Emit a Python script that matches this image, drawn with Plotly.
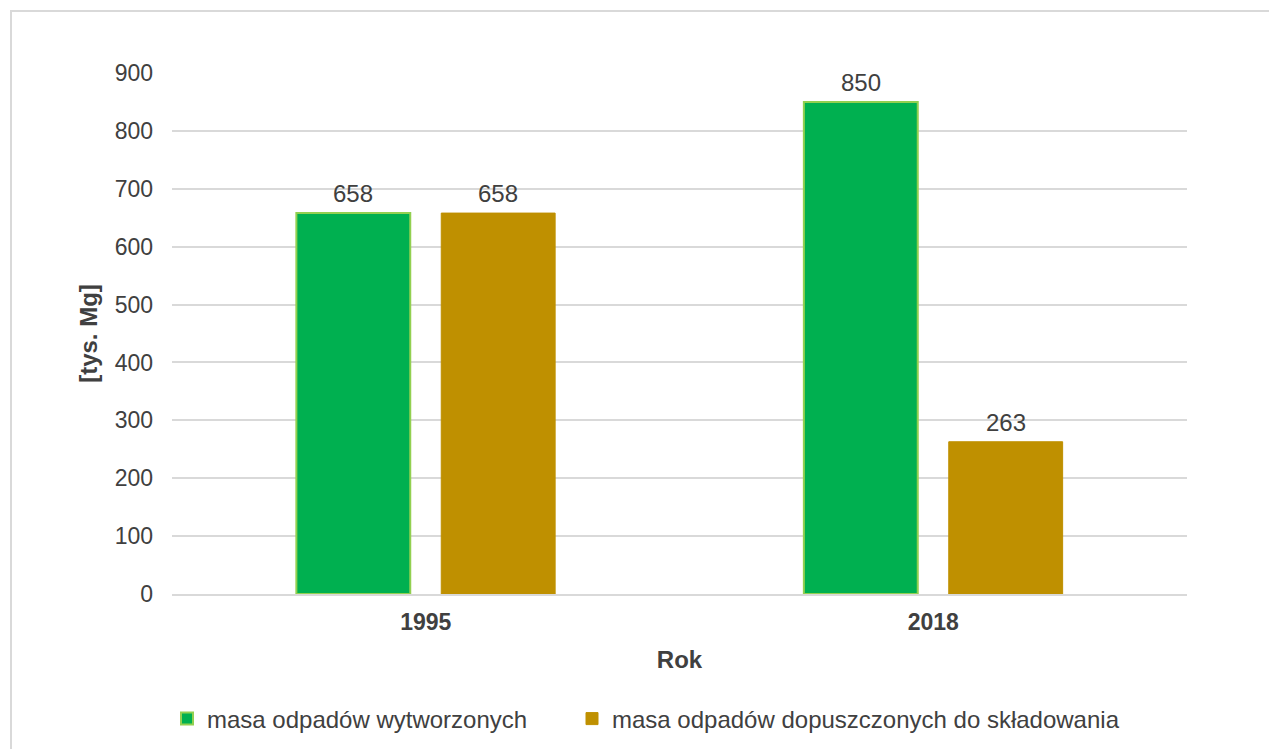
import plotly.graph_objects as go

years = ["1995", "2018"]
wytworzone = [658, 850]
dopuszczone = [658, 263]
series_names = ["masa odpadów wytworzonych", "masa odpadów dopuszczonych do składowania"]
y_ticks = [0, 100, 200, 300, 400, 500, 600, 700, 800, 900]

FONT = "Liberation Sans, Arial, sans-serif"
TXT = "#404040"
FS = 23

fig = go.Figure()
fig.add_trace(go.Bar(
    x=years, y=wytworzone, name=series_names[0], legend="legend",
    marker=dict(color="#00b050", line=dict(color="#92d050", width=2)),
))
fig.add_trace(go.Bar(
    x=years, y=dopuszczone, name=series_names[1], legend="legend2",
    marker=dict(color="#bf9000", line=dict(color="#bf9000", width=1)),
))

# page offset of 8px (body margin) -> figure coords = reference coords - 8
OFF = 8
L, R, T, B = 172 - OFF, 1187 - OFF, 73 - OFF, 594 - OFF
W, H = 1277, 749
pw, ph = R - L, B - T

def px(x):
    return (x - OFF - L) / pw

def py(y):
    return (B - (y - OFF)) / ph

annotations = []
for vals, shift in ((wytworzone, -72.5), (dopuszczone, 72.5)):
    for i, v in enumerate(vals):
        annotations.append(dict(
            x=i, y=v, xref="x", yref="y", text=str(v), showarrow=False,
            xshift=shift, yshift=19.5, yanchor="middle",
            font=dict(size=24, color=TXT, family=FONT),
        ))

leg_common = dict(orientation="h", yanchor="middle", y=py(719), xanchor="left",
                  font=dict(size=24, color=TXT, family=FONT), itemwidth=30,
                  bgcolor="rgba(0,0,0,0)")

fig.update_layout(
    width=W, height=H,
    margin=dict(l=L, r=W - R, t=T, b=H - B),
    paper_bgcolor="white", plot_bgcolor="white",
    barmode="group", bargap=0.429, bargroupgap=0.214,
    font=dict(family=FONT, color=TXT, size=FS),
    showlegend=True,
    legend=dict(x=px(212 - 45), **leg_common),
    legend2=dict(x=px(617 - 45), **leg_common),
    xaxis=dict(
        type="category", range=[-0.5, 1.5],
        title=dict(text="<b>Rok</b>", font=dict(size=24, color=TXT), standoff=18),
        tickfont=dict(size=FS, color=TXT), tickprefix="<b>", ticksuffix="</b>",
        showline=True, linecolor="#d9d9d9", linewidth=2, ticks="",
        showgrid=False, ticklabelstandoff=6,
    ),
    yaxis=dict(
        title=dict(text="<b>[tys. Mg]</b>", font=dict(size=24, color=TXT), standoff=10),
        range=[0, 900], tickvals=y_ticks, tickfont=dict(size=FS, color=TXT),
        showgrid=True, gridcolor="#d9d9d9", gridwidth=2,
        zeroline=False, ticks="", ticklabelstandoff=18,
    ),
    annotations=annotations,
    shapes=[dict(type="rect", xref="paper", yref="paper",
                 x0=px(11), x1=px(1320), y0=py(800), y1=py(11),
                 line=dict(color="#d9d9d9", width=2), fillcolor="rgba(0,0,0,0)", layer="below")],
)

fig.write_html("out.html")
